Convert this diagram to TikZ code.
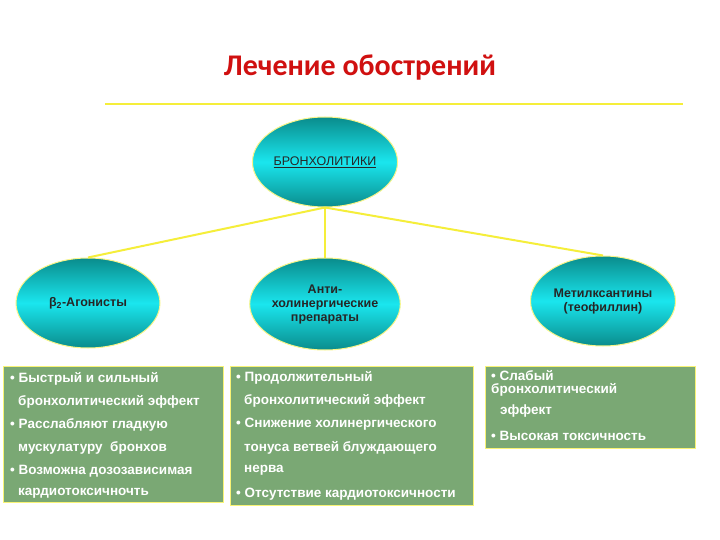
\documentclass[tikz,border=0pt]{standalone}
\usepackage{fontspec}
\setmainfont{Liberation Sans}
\newfontfamily\titlefont{Carlito}
\usetikzlibrary{shapes.geometric}
\definecolor{boxg}{HTML}{7AA874}
\definecolor{teal1}{HTML}{0A8C8C}
\definecolor{cyan1}{HTML}{1AE6EE}
\definecolor{ylw}{HTML}{F5EE3A}
\definecolor{ttl}{HTML}{D01010}
\begin{document}
\begin{tikzpicture}[x=1pt,y=-1pt,
  ell/.style={ellipse,draw=ylw!60!white,line width=1pt,top color=teal1,bottom color=teal1,middle color=cyan1,minimum width=#1,inner sep=0pt,font=\bfseries\fontsize{12.5}{14}\selectfont,align=center,text=black!85},
  ell/.default=145pt,
  con/.style={draw=ylw,line width=2pt},
  gbox/.style={draw=ylw!70!white,line width=1.2pt,fill=boxg,text=white,anchor=north west,inner sep=0pt}]
\useasboundingbox (0,0) rectangle (720,540);
\fill[white] (0,0) rectangle (720,540);
\node[font=\titlefont\bfseries\fontsize{30}{34}\selectfont,text=ttl] (title) at (360,68) {Лечение обострений};
\draw[ylw,line width=2.5pt] (105,104) -- (683,104);
\node[ell=145pt,minimum height=90pt,font=\fontsize{12.5}{14}\selectfont] (top) at (325,162) {\underline{БРОНХОЛИТИКИ}};
\node[ell=144pt,minimum height=90pt] (b2) at (88,303) {β\textsubscript{2}-Агонисты};
\node[ell=143pt,minimum height=92pt] (ac) at (325,304) {Анти-\\холинергические\\препараты};
\node[ell=145pt,minimum height=90pt] (mx) at (603,301) {Метилксантины\\(теофиллин)};
\draw[con] (top.south) -- (b2.north);
\draw[con] (top.south) -- (ac.north);
\draw[con] (top.south) -- (mx.north);
\node[gbox,minimum width=220pt,minimum height=136pt] (l) at (3,366) {};
\node[gbox,minimum width=243pt,minimum height=139pt] (m) at (230,366) {};
\node[gbox,minimum width=210pt,minimum height=82pt] (r) at (485,366) {};
\begin{scope}[every node/.style={text=white,font=\bfseries\fontsize{13.5}{14}\selectfont,anchor=west,inner sep=0pt}]
\node (l1) at (10,379) {• Быстрый и сильный};
\node (l2) at (18,402) {бронхолитический эффект};
\node (l3) at (10,425) {• Расслабляют гладкую};
\node (l4) at (18,448) {мускулатуру \ бронхов};
\node (l5) at (10,471) {• Возможна дозозависимая};
\node (l6) at (18,493) {кардиотоксичночть};
\node (m1) at (236,378) {• Продолжительный};
\node (m2) at (244,401) {бронхолитический эффект};
\node (m3) at (236,424) {• Снижение холинергического};
\node (m4) at (244,448) {тонуса ветвей блуждающего};
\node (m5) at (244,470) {нерва};
\node (m6) at (236,494) {• Отсутствие кардиотоксичности};
\node (r1) at (491,376) {• Слабый};
\node (r2) at (491,390) {бронхолитический};
\node (r3) at (500,411) {эффект};
\node (r4) at (491,436) {• Высокая токсичность};
\end{scope}
\end{tikzpicture}
\end{document}
